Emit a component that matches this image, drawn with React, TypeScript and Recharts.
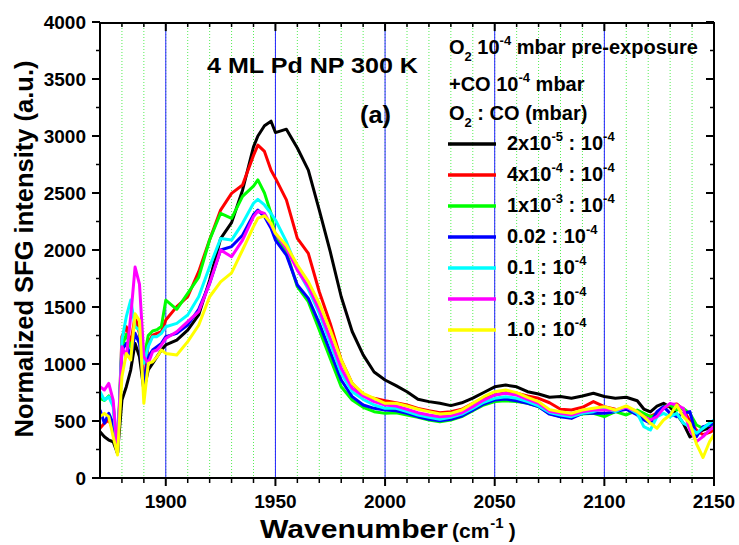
import React from 'react';
import { LineChart, Line, XAxis, YAxis, CartesianGrid } from 'recharts';

const FONT = '"Liberation Sans", Arial, Helvetica, sans-serif';

const wavenumber = [1870,1872,1874,1876,1878,1880,1882,1884,1886,1888,1890,1892,1894,1896,1898,1900,1905,1910,1915,1920,1925,1930,1935,1940,1942,1945,1948,1950,1955,1960,1965,1970,1975,1980,1985,1990,1995,2000,2005,2010,2015,2020,2025,2030,2035,2040,2045,2050,2055,2060,2065,2070,2075,2080,2085,2090,2095,2100,2105,2110,2115,2118,2121,2124,2127,2130,2133,2136,2139,2142,2145,2148,2150];

const o2_2e5 = [406,362,333,318,216,684,801,947,1181,1064,772,947,1006,1064,1123,1167,1210,1298,1430,1735,2100,2240,2525,2905,3000,3090,3130,3030,3060,2895,2700,2350,1985,1590,1285,1080,930,860,810,757,690,670,655,635,660,700,750,800,815,800,757,737,708,715,700,720,743,715,700,708,678,605,580,630,655,620,560,480,360,400,420,440,450];
const o2_4e4 = [436,480,509,421,216,1240,1327,1181,1415,1269,801,1181,1254,1269,1283,1386,1503,1590,1810,2090,2350,2497,2570,2830,2920,2865,2700,2630,2440,2102,1970,1634,1356,1035,830,728,699,678,661,640,611,590,573,582,603,655,699,728,749,743,719,699,660,603,596,620,670,626,603,600,590,560,540,570,610,640,650,600,500,420,380,400,420];
const o2_1e3 = [700,680,720,650,220,1150,1260,1150,1250,1200,1050,1250,1290,1300,1330,1560,1480,1620,1760,2090,2322,2278,2470,2560,2615,2500,2320,2117,1985,1678,1547,1298,1049,801,684,620,582,567,573,553,532,509,494,509,538,590,640,670,678,670,655,626,565,538,544,561,567,538,582,553,596,567,538,553,626,640,596,611,567,465,436,480,450];
const o2_002 = [596,480,567,480,216,1123,1181,1064,1269,1181,830,1064,1123,1152,1181,1240,1269,1342,1480,1707,2000,2030,2130,2310,2350,2293,2190,2087,1956,1693,1576,1356,1108,860,714,640,611,596,590,567,538,515,503,515,544,596,649,684,693,678,655,626,560,538,523,567,567,567,582,603,553,509,480,582,626,567,538,567,582,363,450,465,480];
const o2_01 = [757,684,713,625,216,1210,1415,1561,1327,1298,1006,1152,1240,1240,1269,1327,1356,1430,1590,1853,2100,2087,2234,2410,2445,2395,2320,2263,2073,1830,1655,1444,1181,918,757,690,640,611,611,582,553,532,515,532,561,611,664,699,713,699,670,632,575,553,538,567,582,611,582,626,567,450,421,538,567,538,567,480,450,392,436,480,509];
const o2_03 = [801,772,830,684,216,1152,1064,1415,1850,1700,1064,1006,1108,1123,1167,1225,1283,1371,1459,1707,2000,1941,2087,2293,2340,2320,2220,2146,2015,1824,1678,1474,1225,962,787,720,670,640,632,603,573,553,538,547,573,626,684,728,743,728,690,655,585,567,553,582,596,596,596,620,582,538,509,538,611,655,640,611,421,319,363,421,450];
const o2_10 = [538,567,538,363,202,889,1093,1035,1440,1380,655,1006,1020,1064,1123,1093,1079,1196,1340,1590,1720,1800,2000,2205,2280,2300,2235,2146,2040,1868,1722,1532,1298,1035,830,743,699,655,655,632,603,582,561,567,596,655,713,757,772,749,708,670,600,582,567,596,611,626,596,632,582,538,480,436,509,553,640,538,480,300,180,320,380];

const xMajorTicks = [1900, 1950, 2000, 2050, 2100, 2150];
const xAllTicks = [1880,1890,1900,1910,1920,1930,1940,1950,1960,1970,1980,1990,2000,2010,2020,2030,2040,2050,2060,2070,2080,2090,2100,2110,2120,2130,2140,2150];
const yMajorTicks = [0, 500, 1000, 1500, 2000, 2500, 3000, 3500, 4000];
const yAllTicks = [0,250,500,750,1000,1250,1500,1750,2000,2250,2500,2750,3000,3250,3500,3750,4000];

type Part = { t: string; k?: 'sup' | 'sub' };

const seriesDefs: { key: string; color: string; values: number[]; label: Part[] }[] = [
  { key: 'a', color: '#000000', values: o2_2e5, label: [{ t: '2x10' }, { t: '-5', k: 'sup' }, { t: ' : 10' }, { t: '-4', k: 'sup' }] },
  { key: 'b', color: '#ff0000', values: o2_4e4, label: [{ t: '4x10' }, { t: '-4', k: 'sup' }, { t: ' : 10' }, { t: '-4', k: 'sup' }] },
  { key: 'c', color: '#00ff00', values: o2_1e3, label: [{ t: '1x10' }, { t: '-3', k: 'sup' }, { t: ' : 10' }, { t: '-4', k: 'sup' }] },
  { key: 'd', color: '#0000ff', values: o2_002, label: [{ t: '0.02 : 10' }, { t: '-4', k: 'sup' }] },
  { key: 'e', color: '#00ffff', values: o2_01, label: [{ t: '0.1 : 10' }, { t: '-4', k: 'sup' }] },
  { key: 'f', color: '#ff00ff', values: o2_03, label: [{ t: '0.3 : 10' }, { t: '-4', k: 'sup' }] },
  { key: 'g', color: '#ffff00', values: o2_10, label: [{ t: '1.0 : 10' }, { t: '-4', k: 'sup' }] },
];

const headerLines: Part[][] = [
  [{ t: 'O' }, { t: '2', k: 'sub' }, { t: ' 10' }, { t: '-4', k: 'sup' }, { t: ' mbar pre-exposure' }],
  [{ t: '+CO 10' }, { t: '-4', k: 'sup' }, { t: ' mbar' }],
  [{ t: 'O' }, { t: '2', k: 'sub' }, { t: ' : CO (mbar)' }],
];

const data = wavenumber.map((w, i) => {
  const row: Record<string, number> = { w };
  seriesDefs.forEach((s) => {
    row[s.key] = s.values[i];
  });
  return row;
});

function renderParts(parts: Part[], size: number, small: number) {
  let shift = 0;
  return parts.map((p, i) => {
    const target = p.k === 'sup' ? -9 : p.k === 'sub' ? 7 : 0;
    const dy = target - shift;
    shift = target;
    return (
      <tspan key={i} dy={dy} fontSize={p.k ? small : size}>
        {p.t}
      </tspan>
    );
  });
}

const labelStyle = { fill: '#000', fontSize: 19, fontWeight: 'bold' as const, fontFamily: FONT };
const axisLineStyle = { stroke: '#000', strokeWidth: 2 };
const X_DOMAIN: [number, number] = [1870, 2150];
const Y_DOMAIN: [number, number] = [0, 4000];

const MAJ = 8;
const MIN_OUT = 5;
const MIN_IN = 4;

function BottomTick(props: any) {
  const { x, y, payload } = props;
  const v = payload.value;
  const major = xMajorTicks.includes(v);
  const axisY = y - 17;
  return (
    <g>
      <line x1={x} x2={x} y1={axisY} y2={axisY + (major ? MAJ : MIN_OUT)} stroke="#000" strokeWidth={major ? 2 : 1.5} />
      {major && (
        <text x={x} y={y} dy="0.71em" textAnchor="middle" {...labelStyle}>{v}</text>
      )}
    </g>
  );
}

function TopTick(props: any) {
  const { x, y, payload } = props;
  const major = xMajorTicks.includes(payload.value);
  const axisY = y - MAJ;
  return <line x1={x} x2={x} y1={axisY} y2={axisY + (major ? MAJ : MIN_IN)} stroke="#000" strokeWidth={major ? 2 : 1.5} />;
}

function LeftTick(props: any) {
  const { x, y, payload } = props;
  const v = payload.value;
  const major = yMajorTicks.includes(v);
  const axisX = x + 14;
  return (
    <g>
      <line x1={axisX} x2={axisX - (major ? MAJ : MIN_OUT - 1)} y1={y} y2={y} stroke="#000" strokeWidth={major ? 2 : 1.5} />
      {major && (
        <text x={x} y={y} dy="0.355em" textAnchor="end" {...labelStyle}>{v}</text>
      )}
    </g>
  );
}

function RightTick(props: any) {
  const { x, y, payload } = props;
  const major = yMajorTicks.includes(payload.value);
  const axisX = x + MAJ;
  return <line x1={axisX} x2={axisX - (major ? MAJ : MIN_IN)} y1={y} y2={y} stroke="#000" strokeWidth={major ? 2 : 1.5} />;
}

function EmptyTick() {
  return <g />;
}

export default function App() {
  const textBase = { fontFamily: FONT, fontWeight: 'bold' as const, fill: '#000', style: { whiteSpace: 'pre' as const } };
  return (
    <div style={{ position: 'absolute', left: 0, top: 0, width: 739, height: 545, background: '#fff' }}>
      <LineChart width={739} height={545} data={data} margin={{ top: 22, right: 25, bottom: 0, left: 0 }}>
        <XAxis xAxisId="main" dataKey="w" type="number" domain={X_DOMAIN} allowDataOverflow ticks={xAllTicks} interval={0}
          height={67} tick={<BottomTick />} tickSize={8} tickMargin={9} tickLine={false} axisLine={axisLineStyle} />
        <XAxis xAxisId="top" orientation="top" mirror dataKey="w" type="number" domain={X_DOMAIN} allowDataOverflow ticks={xAllTicks} interval={0}
          height={1} tick={<TopTick />} tickSize={8} tickMargin={0} tickLine={false} axisLine={axisLineStyle} />
        <XAxis xAxisId="gmaj" orientation="top" mirror dataKey="w" type="number" domain={X_DOMAIN} allowDataOverflow ticks={xMajorTicks} interval={0}
          height={1} tick={<EmptyTick />} tickSize={0} tickLine={false} axisLine={false} />
        <YAxis yAxisId="main" type="number" domain={Y_DOMAIN} allowDataOverflow ticks={yAllTicks} interval={0}
          width={100} tick={<LeftTick />} tickSize={8} tickMargin={6} tickLine={false} axisLine={axisLineStyle} />
        <YAxis yAxisId="right" orientation="right" mirror type="number" domain={Y_DOMAIN} allowDataOverflow ticks={yAllTicks} interval={0}
          width={1} tick={<RightTick />} tickSize={8} tickMargin={0} tickLine={false} axisLine={axisLineStyle} />

        <CartesianGrid xAxisId="main" yAxisId="main" horizontal={false} syncWithTicks stroke="#55ee55" strokeDasharray="1 2" strokeWidth={1} />
        <CartesianGrid xAxisId="gmaj" yAxisId="main" horizontal={false} syncWithTicks stroke="#2222ff" strokeWidth={1} />

        {seriesDefs.map((s) => (
          <Line key={s.key} xAxisId="main" yAxisId="main" type="linear" dataKey={s.key} stroke={s.color} strokeWidth={3}
            strokeLinejoin="round" dot={false} activeDot={false} isAnimationActive={false} />
        ))}

        <g className="annotations">
          <text x={207} y={73} fontSize={22} textLength={211} lengthAdjust="spacingAndGlyphs" {...textBase}>4 ML Pd NP 300 K</text>
          <text x={360} y={123} fontSize={24} textLength={31} lengthAdjust="spacingAndGlyphs" {...textBase}>(a)</text>
          <text transform="translate(33,249) rotate(-90)" textAnchor="middle" fontSize={25} textLength={377} lengthAdjust="spacingAndGlyphs" {...textBase}>
            Normalized SFG intensity (a.u.)
          </text>
          <text x={260} y={538} fontSize={25} textLength={188} lengthAdjust="spacingAndGlyphs" {...textBase}>Wavenumber</text>
          <text x={452} y={538} {...textBase}>
            <tspan fontSize={21}>(cm</tspan>
            <tspan fontSize={15} dy={-10} dx={1}>-1</tspan>
            <tspan fontSize={21} dy={10} dx={5}>)</tspan>
          </text>
          {headerLines.map((line, i) => (
            <text key={'h' + i} x={449} y={[54, 91, 120][i]} {...textBase}>
              {renderParts(line, 20, 13)}
            </text>
          ))}
          {seriesDefs.map((s, i) => (
            <g key={'lg' + s.key}>
              <line x1={448} x2={496} y1={144 + 31 * i} y2={144 + 31 * i} stroke={s.color} strokeWidth={3.5} />
              <text x={507} y={150 + 31 * i} {...textBase}>
                {renderParts(s.label, 20, 13)}
              </text>
            </g>
          ))}
        </g>
      </LineChart>
    </div>
  );
}
